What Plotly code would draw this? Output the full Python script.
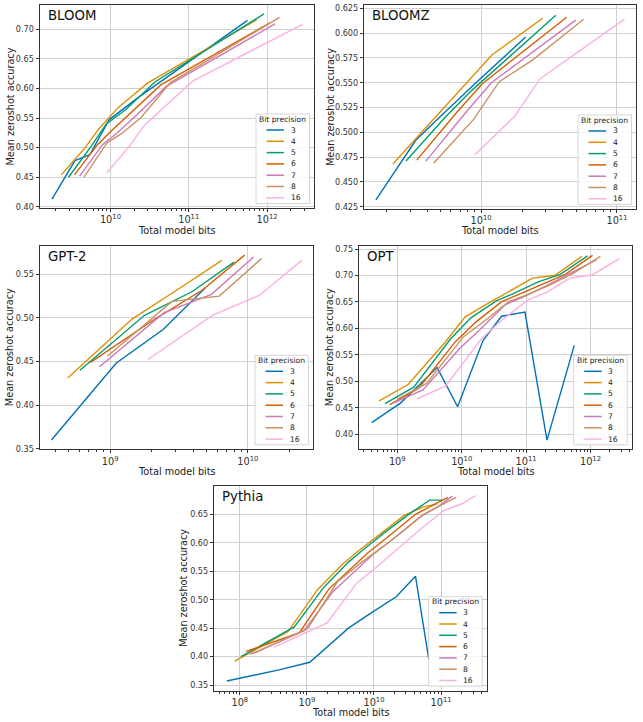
import plotly.graph_objects as go

W, H = 643, 722

# ---------------- data ----------------
BITS = ["3", "4", "5", "6", "7", "8", "16"]
COLORS = ["#0173b2", "#de8f05", "#029e73", "#d55e00", "#cc78bc", "#ca9161", "#fbafe4"]

# model sizes (parameters) per family
bloom_params = [0.56e9, 1.1e9, 1.7e9, 3.0e9, 7.1e9, 176e9]
bloomz_params = [0.56e9, 1.1e9, 1.7e9, 3.0e9, 7.1e9]
gpt2_params = [117e6, 345e6, 762e6, 1542e6]
opt_params = [125e6, 350e6, 1.3e9, 2.7e9, 6.7e9, 13e9, 30e9, 66e9, 175e9]
pythia_params = [20e6, 125e6, 345e6, 800e6, 1.3e9, 2.7e9, 6.7e9, 13e9, 20.5e9]

# effective bits per parameter (incl. quantization constants), one per precision
bloom_bpp = [3.2, 4.2, 5.2, 6.2, 7.2, 8.2, 16]
bloomz_bpp = [3, 4, 5, 6, 7, 8, 16]
gpt2_bpp = [3.2, 4.2, 5.15, 6.15, 7.15, 8.15, 16]
opt_bpp = [3.2, 4.2, 5.15, 6.15, 7.15, 8.15, 16]
pythia_bpp = [3.2, 4.2, 5.2, 6.2, 7.2, 8.2, 16]

# mean zero-shot accuracy (rows follow BITS)
bloom_acc = [
    [0.413, 0.478, 0.488, 0.547, 0.585, 0.715],
    [0.454, 0.498, 0.532, 0.568, 0.609, 0.716],
    [0.450, 0.503, 0.540, 0.564, 0.611, 0.726],
    [0.454, 0.505, 0.530, 0.560, 0.606, 0.711],
    [0.452, 0.505, 0.525, 0.555, 0.603, 0.709],
    [0.450, 0.508, 0.524, 0.551, 0.610, 0.720],
    [0.457, 0.503, 0.538, 0.568, 0.613, 0.708],
]
bloomz_acc = [
    [0.432, 0.492, 0.517, 0.549, 0.596],
    [0.468, 0.512, 0.541, 0.578, 0.615],
    [0.471, 0.516, 0.542, 0.572, 0.618],
    [0.472, 0.520, 0.549, 0.576, 0.616],
    [0.471, 0.520, 0.550, 0.575, 0.613],
    [0.469, 0.513, 0.551, 0.573, 0.614],
    [0.477, 0.516, 0.554, 0.578, 0.614],
]
gpt2_acc = [
    [0.360, 0.448, 0.487, 0.535],
    [0.431, 0.499, 0.534, 0.566],
    [0.440, 0.503, 0.530, 0.564],
    [0.449, 0.499, 0.532, 0.572],
    [0.444, 0.506, 0.527, 0.570],
    [0.456, 0.519, 0.525, 0.568],
    [0.452, 0.503, 0.526, 0.566],
]
opt_acc = [
    [0.422, 0.459, 0.526, 0.452, 0.577, 0.623, 0.631, 0.389, 0.568],
    [0.463, 0.494, 0.573, 0.622, 0.650, 0.670, 0.695, 0.700, 0.736],
    [0.458, 0.489, 0.580, 0.620, 0.652, 0.667, 0.688, 0.702, 0.737],
    [0.456, 0.487, 0.575, 0.612, 0.650, 0.665, 0.685, 0.702, 0.738],
    [0.460, 0.484, 0.562, 0.598, 0.645, 0.660, 0.682, 0.703, 0.730],
    [0.467, 0.496, 0.584, 0.613, 0.651, 0.664, 0.683, 0.704, 0.736],
    [0.467, 0.491, 0.582, 0.617, 0.654, 0.668, 0.695, 0.701, 0.732],
]
pythia_acc = [
    [0.357, 0.377, 0.390, 0.428, 0.450, 0.475, 0.505, 0.541, 0.395],
    [0.392, 0.444, 0.518, 0.562, 0.583, 0.612, 0.648, 0.663, 0.668],
    [0.400, 0.452, 0.522, 0.566, 0.587, 0.617, 0.652, 0.675, 0.675],
    [0.409, 0.442, 0.519, 0.560, 0.582, 0.612, 0.650, 0.668, 0.680],
    [0.404, 0.445, 0.515, 0.555, 0.578, 0.607, 0.645, 0.665, 0.682],
    [0.406, 0.449, 0.531, 0.566, 0.584, 0.612, 0.650, 0.668, 0.680],
    [0.416, 0.459, 0.529, 0.564, 0.586, 0.618, 0.656, 0.669, 0.683],
]

MODELS = ["BLOOM", "BLOOMZ", "GPT-2", "OPT", "Pythia"]
X_TITLE = "Total model bits"
Y_TITLE = "Mean zeroshot accuracy"
LEGEND_TITLE = "Bit precision"

# ---------------- layout geometry (pixels) ----------------
panels = [
    dict(name="BLOOM", params=bloom_params, bpp=bloom_bpp, acc=bloom_acc,
         box=(40, 314, 5, 208), xr=[9.10, 12.60], yr=[0.398, 0.741], dy=0.05, fmt=".2f",
         ytx=10, xty=230.5),
    dict(name="BLOOMZ", params=bloomz_params, bpp=bloomz_bpp, acc=bloomz_acc,
         box=(364.3, 636, 5, 209), xr=[9.14, 11.14], yr=[0.4227, 0.6283], dy=0.025, fmt=".3f",
         ytx=330, xty=231),
    dict(name="GPT-2", params=gpt2_params, bpp=gpt2_bpp, acc=gpt2_acc,
         box=(40, 313, 246, 449.3), xr=[8.49, 10.474], yr=[0.3493, 0.5825], dy=0.05, fmt=".2f",
         ytx=9.5, xty=471.5),
    dict(name="OPT", params=opt_params, bpp=opt_bpp, acc=opt_acc,
         box=(359.3, 631.7, 246, 449.3), xr=[8.41, 12.64], yr=[0.3717, 0.7557], dy=0.05, fmt=".2f",
         ytx=329.5, xty=471.5),
    dict(name="Pythia", params=pythia_params, bpp=pythia_bpp, acc=pythia_acc,
         box=(214.3, 486.7, 486, 690.7), xr=[7.62, 11.68], yr=[0.340, 0.6998], dy=0.05, fmt=".2f",
         ytx=183.5, xty=712.5),
]


def fx(p):
    return p / W


def fy(p):
    return 1 - p / H


FONT = "DejaVu Sans"
fig = go.Figure()
layout = dict(width=W, height=H, margin=dict(l=0, r=0, t=0, b=0), autosize=False,
              paper_bgcolor="white", plot_bgcolor="white", showlegend=False,
              font=dict(family=FONT, color="#222"))
shapes = []
annotations = []

for i, p in enumerate(panels):
    n = "" if i == 0 else str(i + 1)
    xref, yref = "x" + n, "y" + n
    l, r, t, b = p["box"]
    for k, lab in enumerate(BITS):
        xs = [m * p["bpp"][k] for m in p["params"]]
        fig.add_trace(go.Scatter(x=xs, y=p["acc"][k], mode="lines", name=lab,
                                 line=dict(color=COLORS[k], width=1.4),
                                 xaxis=xref, yaxis=yref, showlegend=False))
    common = dict(ticks="outside", tickwidth=0.8, tickcolor="#333",
                  showgrid=True, gridcolor="#cfcfcf", gridwidth=0.9,
                  showline=True, linecolor="#333", linewidth=1, mirror=True,
                  zeroline=False, automargin=False, fixedrange=True)
    layout["xaxis" + n] = dict(type="log", domain=[fx(l), fx(r)], range=p["xr"],
                               anchor=yref, dtick=1, exponentformat="power", ticklen=3,
                               tickfont=dict(size=7.8, color="#333", family=FONT),
                               minor=dict(ticks="outside", ticklen=2, tickwidth=0.6,
                                          tickcolor="#333", dtick="D1", showgrid=False),
                               **common)
    layout["yaxis" + n] = dict(domain=[fy(b), fy(t)], range=p["yr"], anchor=xref,
                               tick0=0, dtick=p["dy"], tickformat=p["fmt"], ticklen=3.5,
                               tickfont=dict(size=8.1, color="#333", family=FONT),
                               **common)
    # panel name
    annotations.append(dict(x=fx(l + 5.5), y=fy(t + 10.5), xref="paper", yref="paper",
                            text=p["name"], showarrow=False, xanchor="left", yanchor="middle",
                            font=dict(size=13.3, color="#111", family=FONT)))
    # axis titles
    annotations.append(dict(x=fx((l + r) / 2), y=fy(p["xty"]), xref="paper", yref="paper",
                            text=X_TITLE, showarrow=False, xanchor="center", yanchor="middle",
                            borderpad=0, font=dict(size=9.7, color="#222", family=FONT)))
    annotations.append(dict(x=fx(p["ytx"]), y=fy((t + b) / 2), xref="paper", yref="paper",
                            text=Y_TITLE, showarrow=False, xanchor="center", yanchor="middle",
                            textangle=-90, font=dict(size=9.7, color="#222", family=FONT)))
    # legend box (lower right)
    bw, bh = 53.5, 89.5
    br, bb = r - 4.5, b - 4.5
    bx, by = br - bw, bb - bh
    shapes.append(dict(type="rect", xref="paper", yref="paper",
                       x0=fx(bx), x1=fx(br), y0=fy(bb), y1=fy(by),
                       fillcolor="rgba(255,255,255,0.85)", line=dict(color="#cccccc", width=0.8),
                       layer="above"))
    annotations.append(dict(x=fx(bx + bw / 2), y=fy(by + 5.2), xref="paper", yref="paper",
                            text=LEGEND_TITLE, showarrow=False, xanchor="center", yanchor="middle",
                            font=dict(size=7.6, color="#222", family=FONT)))
    for k, lab in enumerate(BITS):
        yy = by + 16 + k * 11.3
        shapes.append(dict(type="line", xref="paper", yref="paper",
                           x0=fx(bx + 10.5), x1=fx(bx + 28), y0=fy(yy), y1=fy(yy),
                           line=dict(color=COLORS[k], width=1.5), layer="above"))
        annotations.append(dict(x=fx(bx + 32.5), y=fy(yy), xref="paper", yref="paper",
                                text=lab, showarrow=False, xanchor="left", yanchor="middle",
                                font=dict(size=7.6, color="#222", family=FONT)))

layout["shapes"] = shapes
layout["annotations"] = annotations
fig.update_layout(**layout)
fig.write_html("out.html", config={"displayModeBar": False},
               post_script="document.body.style.margin='0';document.body.style.overflow='hidden';")
